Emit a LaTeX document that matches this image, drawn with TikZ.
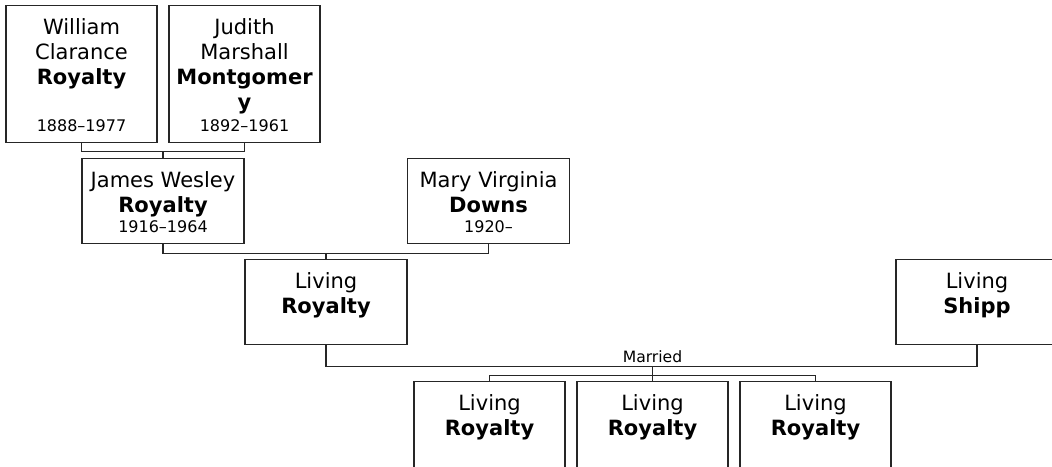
\documentclass[tikz,border=0pt]{standalone}
\usepackage{fontspec}
\setmainfont{DejaVu Sans}
\usepackage{tikz}
\usetikzlibrary{positioning}

\newcommand{\namefont}{\fontsize{10.5}{12.5}\selectfont}
\newcommand{\datefont}{\fontsize{8}{9.5}\selectfont}
\newcommand{\card}[4]{%
  \begin{minipage}[t][#2][t]{#1}\centering\namefont
    \rule{0pt}{14.5pt}#3\par\vfill
    \datefont\rule[-5.5pt]{0pt}{5.5pt}#4\end{minipage}}

\begin{document}
\begin{tikzpicture}[x=0.5pt, y=-0.5pt, font=\namefont,
    person/.style={draw=black!85, line width=0.55pt, inner sep=0pt, anchor=north},
    link/.style={draw=black!85, line width=0.55pt}]
    \useasboundingbox (0,0) rectangle (1052,466);

    % Grandparents
    \node [person] (william) at (81.5,5) {\card{75.5pt}{68.5pt}{William\\Clarance\\\textbf{Royalty}}{1888–1977}};
    \node [person] (judith) at (244.5,5) {\card{75.5pt}{68.5pt}{Judith\\Marshall\\\textbf{Montgomer}\\\textbf{y}}{1892–1961}};

    % Parents
    \node [person] (james) at (163,158) {\card{81pt}{42.5pt}{James Wesley\\\textbf{Royalty}}{1916–1964}};
    \node [person] (mary) at (488.5,158) {\card{81pt}{42.5pt}{Mary Virginia\\\textbf{Downs}}{1920–}};

    % Couple
    \node [person] (living) at (326,259) {\card{81pt}{42.5pt}{Living\\\textbf{Royalty}}{}};
    \node [person] (shipp) at (977,259) {\card{81pt}{42.5pt}{Living\\\textbf{Shipp}}{}};

    % Children
    \node [person] (child1) at (489.5,381) {\card{75.5pt}{45pt}{Living\\\textbf{Royalty}}{}};
    \node [person] (child2) at (652.5,381) {\card{75.5pt}{45pt}{Living\\\textbf{Royalty}}{}};
    \node [person] (child3) at (815.5,381) {\card{75.5pt}{45pt}{Living\\\textbf{Royalty}}{}};

    % Links
    \draw [link] (william.south) -- ++(0,8) coordinate (wj) -| (judith.south);
    \draw [link] (james.north) -- (james.north |- wj);
    \draw [link] (james.south) -- ++(0,9) coordinate (jm) -| (mary.south);
    \draw [link] (living.north) -- (living.north |- jm);
    \draw [link] (living.south) -- ++(0,21) coordinate (ls) -| (shipp.south);
    \coordinate (fam) at (child2.north |- ls);
    \node [anchor=south, inner sep=1.5pt, font=\fontsize{7.8}{9}\selectfont] (married) at (fam) {Married};
    \draw [link] (fam) -- ++(0,9) coordinate (kids);
    \draw [link] (child1.north) |- (kids) -| (child3.north);
    \draw [link] (kids) -- (child2.north);
\end{tikzpicture}
\end{document}
